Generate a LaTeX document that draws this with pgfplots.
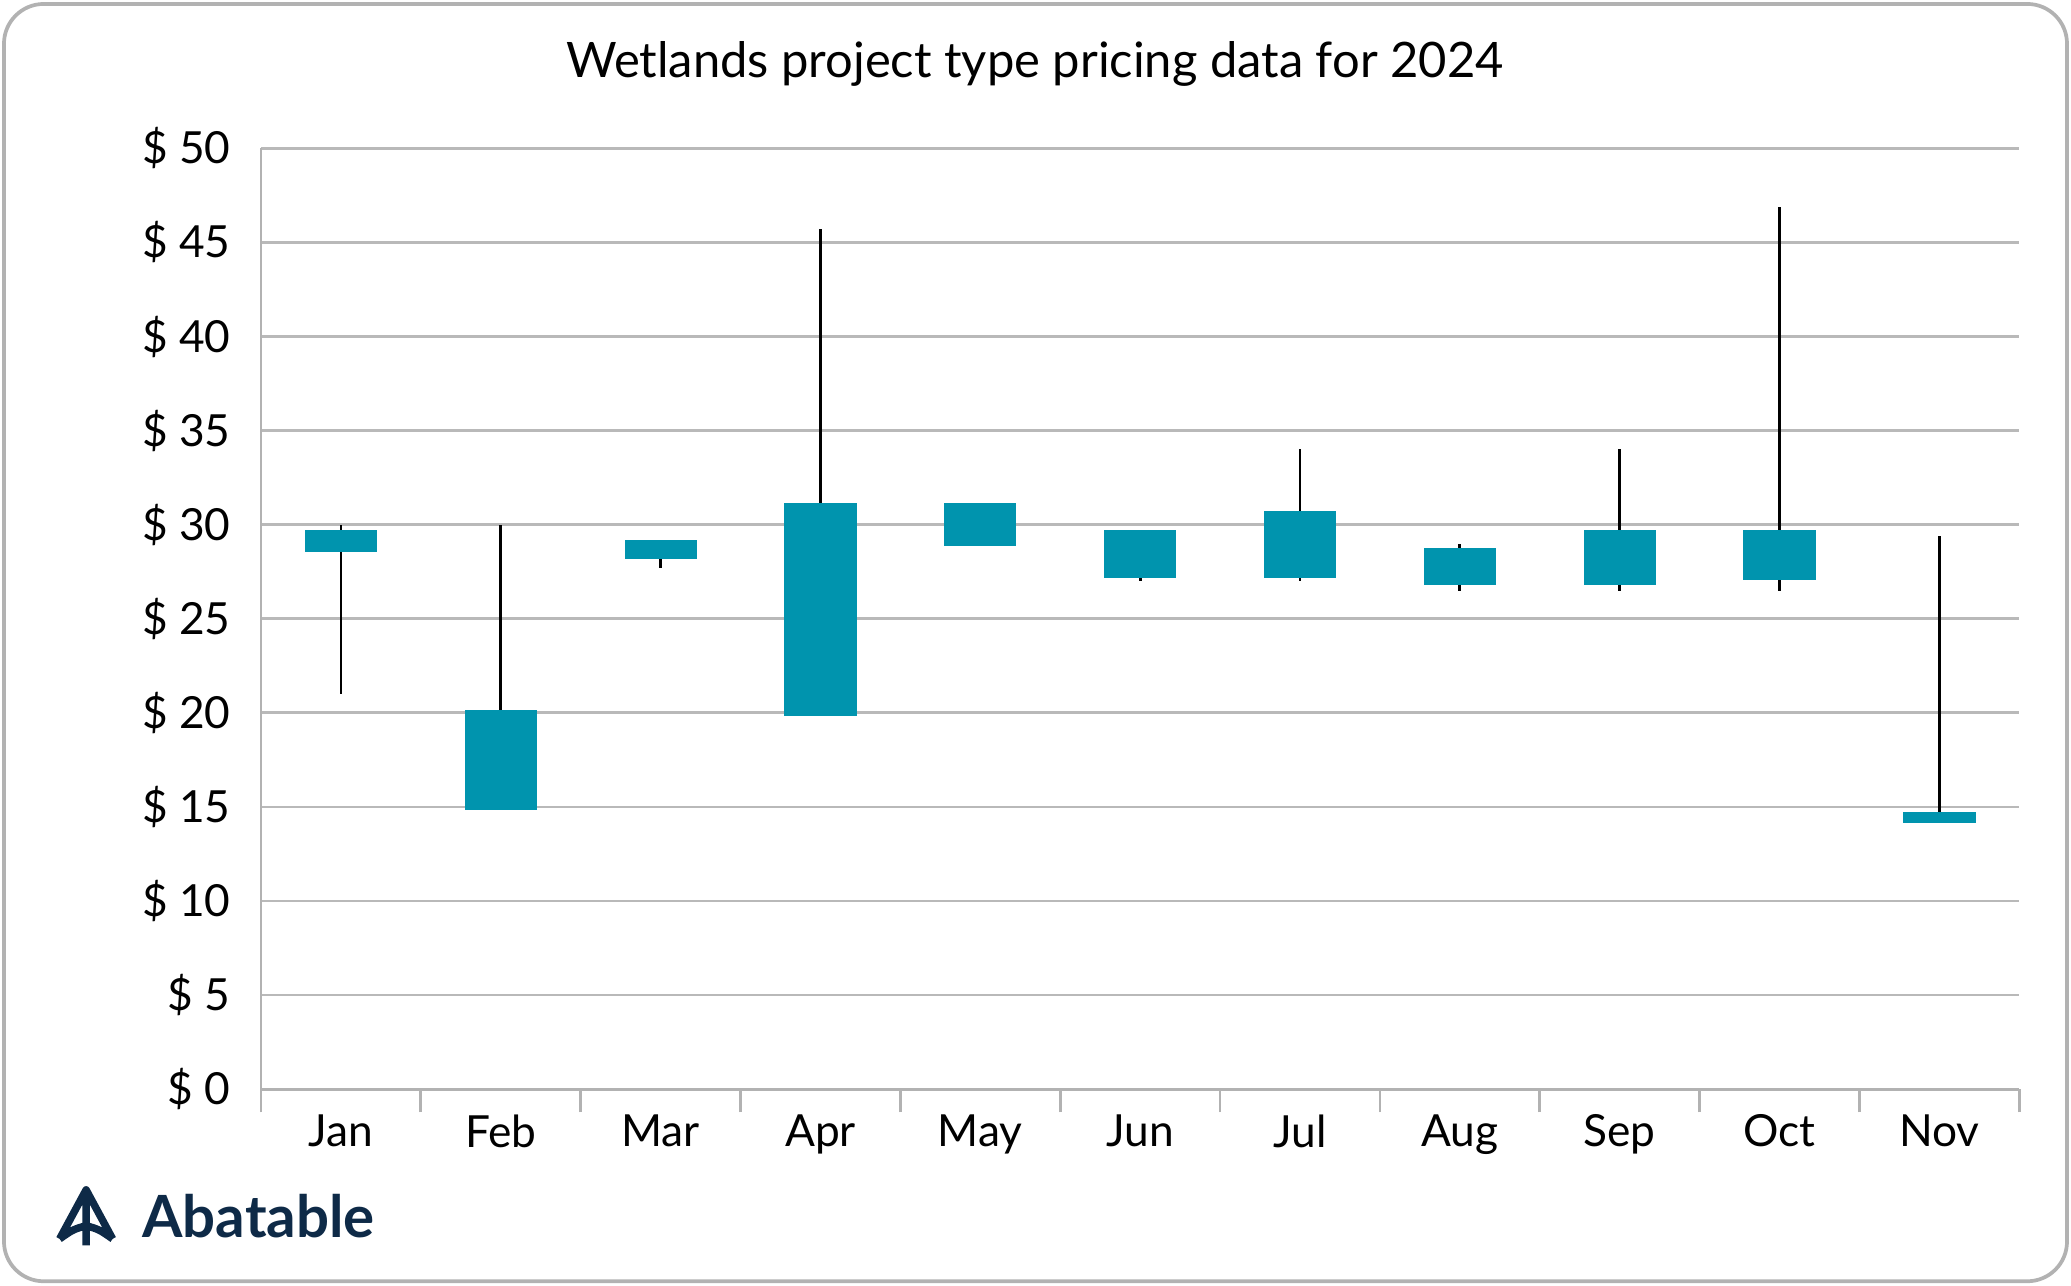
\documentclass[border=0pt]{standalone}
\usepackage{pgfplots}
\pgfplotsset{compat=1.18}
\usepgfplotslibrary{statistics}
\usepackage{fontspec}
\setmainfont{Lato}
\definecolor{teal}{HTML}{0094AE}
\definecolor{navy}{HTML}{0E2A47}
\begin{document}
\begin{tikzpicture}
\path[use as bounding box] (0,0) rectangle (15.63,9.70);
\draw[gray!60, line width=0.8pt, rounded corners=0.3cm] (0.03,0.03) rectangle (15.60,9.67);
\node[font=\fontsize{10.5}{12}\selectfont\bfseries] at (7.81,9.22) {\mdseries Wetlands project type pricing data for 2024};
\node[font=\fontsize{12.5}{15}\selectfont\bfseries, text=navy, anchor=west] at (0.95,0.52) {Abatable};
\draw[navy, line width=1.6pt, line join=round] (0.45,0.35) -- (0.65,0.72) -- (0.85,0.35) (0.65,0.72) -- (0.65,0.30) (0.45,0.35) .. controls (0.55,0.42) .. (0.65,0.45) .. controls (0.75,0.42) .. (0.85,0.35);
\begin{axis}[at={(1.97cm,1.48cm)}, anchor=origin, scale only axis,
  width=13.27cm, height=7.10cm,
  xmin=0.5, xmax=11.5, ymin=0, ymax=50,
  ytick={0,5,...,50}, yticklabel={\$ \pgfmathprintnumber{\tick}},
  /pgf/number format/assume math mode=true,
  ymajorgrids, grid style={gray!55, line width=0.6pt},
  axis line style={gray!60, line width=0.6pt},
  axis x line*=bottom, axis y line*=left,
  ytick style={draw=none},
  xtick={1,...,11}, xticklabels={Jan,Feb,Mar,Apr,May,Jun,Jul,Aug,Sep,Oct,Nov},
  xtick style={draw=none},
  extra x ticks={0.5,1.5,...,11.5}, extra x tick labels={},
  extra x tick style={tick align=outside, major tick length=5pt, xtick style={draw=gray!60, line width=0.6pt}, grid=none},
  tick label style={font=\fontsize{9.5}{12}\selectfont},
  yticklabel style={xshift=-3pt},
  xticklabel style={yshift=-2pt},
  boxplot/draw direction=y,
  boxplot/box extend=0.44,
  boxplot/whisker extend=0,
  boxplot/every whisker/.style={solid, black, line width=0.6pt},
  boxplot/every median/.style={draw=none},
  boxplot/every box/.style={solid, fill=teal, draw=teal},
]
\addplot[solid, mark=none, boxplot prepared={draw position=1, lower whisker=21, lower quartile=28.6, median=28.6, upper quartile=29.65, upper whisker=30}] coordinates {};
\addplot[solid, mark=none, boxplot prepared={draw position=2, lower whisker=14.9, lower quartile=14.9, median=14.9, upper quartile=20.1, upper whisker=30}] coordinates {};
\addplot[solid, mark=none, boxplot prepared={draw position=3, lower whisker=27.7, lower quartile=28.25, median=28.25, upper quartile=29.15, upper whisker=29.15}] coordinates {};
\addplot[solid, mark=none, boxplot prepared={draw position=4, lower whisker=19.9, lower quartile=19.9, median=19.9, upper quartile=31.1, upper whisker=45.7}] coordinates {};
\addplot[solid, mark=none, boxplot prepared={draw position=5, lower whisker=28.9, lower quartile=28.9, median=28.9, upper quartile=31.1, upper whisker=31.1}] coordinates {};
\addplot[solid, mark=none, boxplot prepared={draw position=6, lower whisker=27.0, lower quartile=27.2, median=27.2, upper quartile=29.65, upper whisker=29.65}] coordinates {};
\addplot[solid, mark=none, boxplot prepared={draw position=7, lower whisker=27.0, lower quartile=27.2, median=27.2, upper quartile=30.7, upper whisker=34}] coordinates {};
\addplot[solid, mark=none, boxplot prepared={draw position=8, lower whisker=26.5, lower quartile=26.85, median=26.85, upper quartile=28.7, upper whisker=29}] coordinates {};
\addplot[solid, mark=none, boxplot prepared={draw position=9, lower whisker=26.5, lower quartile=26.85, median=26.85, upper quartile=29.65, upper whisker=34}] coordinates {};
\addplot[solid, mark=none, boxplot prepared={draw position=10, lower whisker=26.5, lower quartile=27.1, median=27.1, upper quartile=29.65, upper whisker=46.9}] coordinates {};
\addplot[solid, mark=none, boxplot prepared={draw position=11, lower whisker=14.2, lower quartile=14.2, median=14.2, upper quartile=14.7, upper whisker=29.4}] coordinates {};
\end{axis}
\end{tikzpicture}
\end{document}
